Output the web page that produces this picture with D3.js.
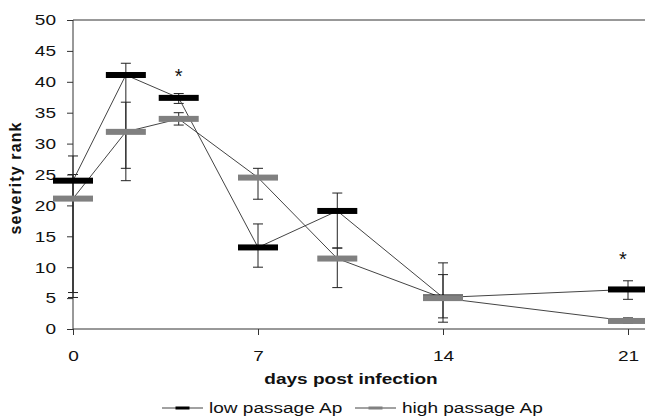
<!DOCTYPE html>
<html><head><meta charset="utf-8">
<script src="https://cdn.jsdelivr.net/npm/d3@7"></script>
<style>body{margin:0;background:#fff}svg{display:block}text{font-family:"Liberation Sans",Arial,sans-serif}</style>
</head><body><svg id="c" width="645" height="420"></svg>
<script>
const days = [0, 2, 4, 7, 10, 14, 21];
const xTicks = [0, 7, 14, 21];
const yTicks = [0, 5, 10, 15, 20, 25, 30, 35, 40, 45, 50];
const lowMean = [24.0, 41.1, 37.4, 13.2, 19.1, 5.1, 6.4];
const lowErrLo = [5.1, 24.0, 36.5, 10.0, 13.1, 1.1, 4.8];
const lowErrHi = [28.0, 43.0, 38.1, 17.0, 22.0, 10.7, 7.8];
const highMean = [21.1, 31.9, 34.0, 24.5, 11.4, 5.0, 1.3];
const highErrLo = [5.9, 26.0, 33.0, 21.0, 6.7, 1.8, 0.9];
const highErrHi = [25.0, 36.7, 35.0, 26.0, 13.1, 8.8, 1.8];
const starDays = [4, 21];
const starVals = [41.3, 11.6];
const seriesNames = ["low passage Ap", "high passage Ap"];
const seriesColors = ["#000000", "#808080"];

const SX = 1.27; // horizontal stretch of the original figure's text
const svg = d3.select("#c");
const x = d3.scaleLinear().domain([0, 21]).range([73, 628]);
const y = d3.scaleLinear().domain([0, 50]).range([329, 20]);

function stretch(sel) {
  sel.each(function () {
    const t = d3.select(this);
    const tx = +t.attr("x") || 0;
    t.attr("x", 0).attr("transform", `translate(${tx},0) scale(${SX},1)`);
  });
}

// top border line
svg.append("line").attr("x1", 73).attr("x2", 645).attr("y1", y(50)).attr("y2", y(50))
  .attr("stroke", "#333").attr("stroke-width", 1);

// axes
const yAx = svg.append("g").attr("transform", "translate(73,0)")
  .call(d3.axisLeft(y).tickValues(yTicks).tickSize(6).tickPadding(11));
const xAx = svg.append("g").attr("transform", "translate(0,329)")
  .call(d3.axisBottom(x).tickValues(xTicks).tickSize(6).tickPadding(15));
[yAx, xAx].forEach(g => {
  g.select(".domain").remove();
  g.selectAll("line").attr("stroke", "#333");
  g.selectAll("text").attr("font-size", 15).attr("fill", "#111").call(stretch);
});
svg.append("line").attr("x1", 73).attr("x2", 73).attr("y1", y(50)).attr("y2", y(0)).attr("stroke", "#333");
svg.append("line").attr("x1", 73).attr("x2", 645).attr("y1", y(0)).attr("y2", y(0)).attr("stroke", "#333");

const series = [
  {mean: lowMean, lo: lowErrLo, hi: lowErrHi},
  {mean: highMean, lo: highErrLo, hi: highErrHi}
];

// error bars
series.forEach(s => {
  const g = svg.append("g");
  days.forEach((d, i) => {
    const cx = x(d);
    g.append("line").attr("x1", cx).attr("x2", cx).attr("y1", y(s.hi[i])).attr("y2", y(s.lo[i]))
      .attr("stroke", "#222").attr("stroke-width", 1);
    [s.hi[i], s.lo[i]].forEach(v => g.append("line").attr("x1", cx - 5).attr("x2", cx + 5)
      .attr("y1", y(v)).attr("y2", y(v)).attr("stroke", "#222").attr("stroke-width", 1));
  });
});

// connecting lines
const line = d3.line().x((d, i) => x(days[i])).y(d => y(d));
series.forEach(s => {
  svg.append("path").attr("d", line(s.mean)).attr("fill", "none")
    .attr("stroke", "#444").attr("stroke-width", 1);
});

// horizontal bar markers
series.forEach((s, k) => {
  svg.append("g").selectAll("rect").data(s.mean).join("rect")
    .attr("x", (d, i) => x(days[i]) - 20).attr("y", d => y(d) - 3)
    .attr("width", 40).attr("height", 6).attr("fill", seriesColors[k]);
});

// stars
svg.append("g").selectAll("text").data(starDays).join("text")
  .attr("x", d => x(d) - (d === 21 ? 5 : 0)).attr("y", (d, i) => y(starVals[i]) + 9)
  .attr("text-anchor", "middle").attr("font-size", 20).attr("fill", "#111").text("*");

// axis titles
svg.append("text").attr("transform", "translate(21,178) rotate(-90)")
  .attr("text-anchor", "middle").attr("font-size", 16).attr("font-weight", "bold")
  .attr("letter-spacing", 1.1).attr("fill", "#111")
  .text("severity rank");
svg.append("text").attr("x", 351).attr("y", 384).attr("text-anchor", "middle")
  .attr("font-size", 15).attr("font-weight", "bold").attr("fill", "#111").text("days post infection")
  .call(stretch);

// legend
const legX = [162, 355];
const legW = [41, 41];
seriesNames.forEach((n, k) => {
  const g = svg.append("g");
  const ly = 408;
  g.append("line").attr("x1", legX[k]).attr("x2", legX[k] + legW[k]).attr("y1", ly).attr("y2", ly)
    .attr("stroke", "#444").attr("stroke-width", 1);
  g.append("rect").attr("x", legX[k] + legW[k] / 2 - 7).attr("y", ly - 1.5).attr("width", 14).attr("height", 3)
    .attr("fill", seriesColors[k]);
  g.append("text").attr("x", legX[k] + legW[k] + 6).attr("y", ly + 5).attr("font-size", 15)
    .attr("fill", "#111").text(n).call(stretch);
});
</script></body></html>
